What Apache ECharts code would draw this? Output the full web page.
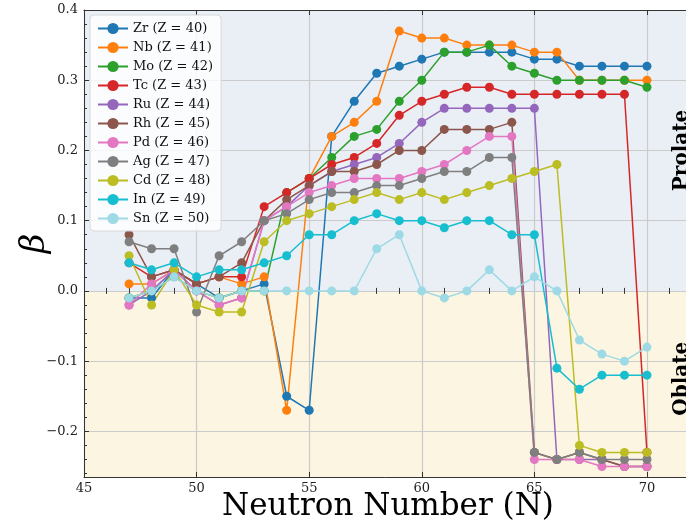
<!DOCTYPE html>
<html><head><meta charset="utf-8">
<script src="https://cdn.jsdelivr.net/npm/echarts@6/dist/echarts.min.js"></script>
<style>html,body{margin:0;padding:0;background:#fff}#c{width:686px;height:526px}</style>
</head><body><div id="c"></div>
<script>
const neutrons = [47,48,49,50,51,52,53,54,55,56,57,58,59,60,61,62,63,64,65,66,67,68,69,70];
const seriesNames = ['Zr (Z = 40)','Nb (Z = 41)','Mo (Z = 42)','Tc (Z = 43)','Ru (Z = 44)','Rh (Z = 45)','Pd (Z = 46)','Ag (Z = 47)','Cd (Z = 48)','In (Z = 49)','Sn (Z = 50)'];
const Zr = [-0.01,-0.01,0.03,0.01,-0.01,0.00,0.01,-0.15,-0.17,0.22,0.27,0.31,0.32,0.33,0.34,0.34,0.34,0.34,0.33,0.33,0.32,0.32,0.32,0.32];
const Nb = [0.01,0.01,0.03,0.01,0.02,0.01,0.02,-0.17,0.16,0.22,0.24,0.27,0.37,0.36,0.36,0.35,0.35,0.35,0.34,0.34,0.30,0.30,0.30,0.30];
const Mo = [-0.01,0.00,0.02,0.00,-0.01,0.00,0.00,0.14,0.16,0.19,0.22,0.23,0.27,0.30,0.34,0.34,0.35,0.32,0.31,0.30,0.30,0.30,0.30,0.29];
const Tc = [0.04,0.02,0.03,0.01,0.02,0.02,0.12,0.14,0.16,0.18,0.19,0.21,0.25,0.27,0.28,0.29,0.29,0.28,0.28,0.28,0.28,0.28,0.28,-0.23];
const Ru = [-0.02,0.00,0.03,0.00,-0.02,-0.01,0.10,0.12,0.15,0.17,0.18,0.19,0.21,0.24,0.26,0.26,0.26,0.26,0.26,-0.24,-0.24,-0.24,-0.25,-0.25];
const Rh = [0.08,0.02,0.03,0.01,0.02,0.04,0.10,0.13,0.15,0.17,0.17,0.18,0.20,0.20,0.23,0.23,0.23,0.24,-0.23,-0.24,-0.23,-0.24,-0.25,-0.25];
const Pd = [-0.02,0.01,0.03,0.00,-0.02,-0.01,0.10,0.12,0.14,0.15,0.16,0.16,0.16,0.17,0.18,0.20,0.22,0.22,-0.24,-0.24,-0.24,-0.25,-0.25,-0.25];
const Ag = [0.07,0.06,0.06,-0.03,0.05,0.07,0.10,0.11,0.13,0.14,0.14,0.15,0.15,0.16,0.17,0.17,0.19,0.19,-0.23,-0.24,-0.23,-0.24,-0.24,-0.24];
const Cd = [0.05,-0.02,0.03,-0.02,-0.03,-0.03,0.07,0.10,0.11,0.12,0.13,0.14,0.13,0.14,0.13,0.14,0.15,0.16,0.17,0.18,-0.22,-0.23,-0.23,-0.23];
const In = [0.04,0.03,0.04,0.02,0.03,0.03,0.04,0.05,0.08,0.08,0.10,0.11,0.10,0.10,0.09,0.10,0.10,0.08,0.08,-0.11,-0.14,-0.12,-0.12,-0.12];
const Sn = [-0.01,0.00,0.02,0.00,-0.01,0.00,0.00,0.00,0.00,0.00,0.00,0.06,0.08,0.00,-0.01,0.00,0.03,0.00,0.02,0.00,-0.07,-0.09,-0.10,-0.08];
const colors = ['#1f77b4','#ff7f0e','#2ca02c','#d62728','#9467bd','#8c564b','#e377c2','#7f7f7f','#bcbd22','#17becf','#9edae5'];
const xMajorTicks = [45,50,55,60,65,70];
const xMinorTicks = [46,47,48,49,51,52,53,54,56,57,58,59,61,62,63,64,66,67,68,69,71];
const yMajorTicks = [-0.2,-0.1,0.0,0.1,0.2,0.3,0.4];
const yMinorTicks = [-0.26,-0.24,-0.22,-0.18,-0.16,-0.14,-0.12,-0.08,-0.06,-0.04,-0.02,0.02,0.04,0.06,0.08,0.12,0.14,0.16,0.18,0.22,0.24,0.26,0.28,0.32,0.34,0.36,0.38];
const xRange = [45, 72];
const yRange = [-0.265, 0.4];
const regions = [{name:'Prolate', from:0, to:0.4, color:'#eaeff6', labelY:0.2}, {name:'Oblate', from:-0.265, to:0, color:'#fbf5e1', labelY:-0.125}];
const labelX = 71.55;

const allData = [Zr,Nb,Mo,Tc,Ru,Rh,Pd,Ag,Cd,In,Sn];
const serif = 'DejaVu Serif';
const axisColor = '#333';
const fmtY = v => { const s = Math.abs(v) < 1e-9 ? '0.0' : v.toFixed(1); return s.replace('-', '\u2212'); };

const baseX = {type:'value', min:xRange[0], max:xRange[1], gridIndex:0};
const baseY = {type:'value', min:yRange[0], max:yRange[1], gridIndex:0};
const xAxes = [
  Object.assign({}, baseX, {position:'bottom', z:1,
    axisLine:{show:true, onZero:false, lineStyle:{color:axisColor, width:1}},
    axisTick:{show:true, inside:true, length:5, customValues:xMajorTicks, lineStyle:{color:axisColor}},
    axisLabel:{show:true, customValues:xMajorTicks, margin:5, fontFamily:serif, fontSize:13, color:'#222'},
    splitLine:{show:true, lineStyle:{color:'#cbcbcb', width:1.2}},
    name:'Neutron Number (N)', nameLocation:'middle', nameGap:14, nameMoveOverlap:false,
    nameTextStyle:{fontFamily:serif, fontSize:31, color:'#000', verticalAlign:'top'}}),
  Object.assign({}, baseX, {position:'bottom', z:1, axisLine:{show:false},
    axisTick:{show:true, inside:true, length:3, customValues:xMinorTicks, lineStyle:{color:axisColor}},
    axisLabel:{show:false}, splitLine:{show:false}}),
  Object.assign({}, baseX, {position:'top', z:1,
    axisLine:{show:true, onZero:false, lineStyle:{color:axisColor, width:1}},
    axisTick:{show:true, inside:true, length:5, customValues:xMajorTicks, lineStyle:{color:axisColor}},
    axisLabel:{show:false}, splitLine:{show:false}}),
  Object.assign({}, baseX, {position:'top', z:1, axisLine:{show:false},
    axisTick:{show:true, inside:true, length:3, customValues:xMinorTicks, lineStyle:{color:axisColor}},
    axisLabel:{show:false}, splitLine:{show:false}})
];
const yAxes = [
  Object.assign({}, baseY, {position:'left', z:1,
    axisLine:{show:true, onZero:false, lineStyle:{color:axisColor, width:1}},
    axisTick:{show:true, inside:true, length:5, customValues:yMajorTicks, lineStyle:{color:axisColor}},
    axisLabel:{show:true, customValues:yMajorTicks, margin:6, fontFamily:serif, fontSize:13, color:'#222', formatter:fmtY},
    splitLine:{show:true, lineStyle:{color:'#cbcbcb', width:1.2}},
    name:'\u03b2', nameLocation:'middle', nameRotate:90, nameGap:32, nameMoveOverlap:false,
    nameTextStyle:{fontFamily:serif, fontSize:34, fontStyle:'italic', color:'#000'}}),
  Object.assign({}, baseY, {position:'left', z:1, axisLine:{show:false},
    axisTick:{show:true, inside:true, length:3, customValues:yMinorTicks, lineStyle:{color:axisColor}},
    axisLabel:{show:false}, splitLine:{show:false}})
];

const series = [{
  type:'line', name:'__bg', data:[], z:0, silent:true, xAxisIndex:0, yAxisIndex:0,
  markArea:{silent:true, z:0, data: regions.map(r => [{yAxis:r.from, itemStyle:{color:r.color}}, {yAxis:r.to}])}
}];
seriesNames.forEach((n, i) => {
  series.push({
    type:'line', name:n, z:2, xAxisIndex:0, yAxisIndex:0,
    data: neutrons.map((x, j) => [x, allData[i][j]]),
    symbol:'circle', symbolSize:9, showSymbol:true,
    color: colors[i],
    lineStyle:{width:1.5, color:colors[i]},
    itemStyle:{color:colors[i]},
    emphasis:{disabled:true}
  });
});

const chart = echarts.init(document.getElementById('c'), null, {renderer:'canvas'});
chart.setOption({
  animation:false,
  grid:{left:84, right:-6, top:10, bottom:49, containLabel:false, outerBoundsMode:'none'},
  xAxis:xAxes, yAxis:yAxes,
  legend:{
    orient:'vertical', left:90, top:15, data:seriesNames,
    itemWidth:30, itemHeight:14, itemGap:6,
    textStyle:{fontFamily:serif, fontSize:13, color:'#111'},
    backgroundColor:'rgba(255,255,255,0.8)', borderColor:'#d8d8d8', borderWidth:1, borderRadius:4,
    padding:[7,8,6,7]
  },
  series: series
});
const graphics = regions.map(r => {
  const p = chart.convertToPixel({xAxisIndex:0, yAxisIndex:0}, [labelX, r.labelY]);
  return {type:'text', x:p[0], y:p[1], rotation:Math.PI/2, z:50,
    style:{text:r.name, font:'bold 20px "DejaVu Serif"', fill:'#000', align:'center', verticalAlign:'middle'}};
});
chart.setOption({graphic:graphics});
</script></body></html>
